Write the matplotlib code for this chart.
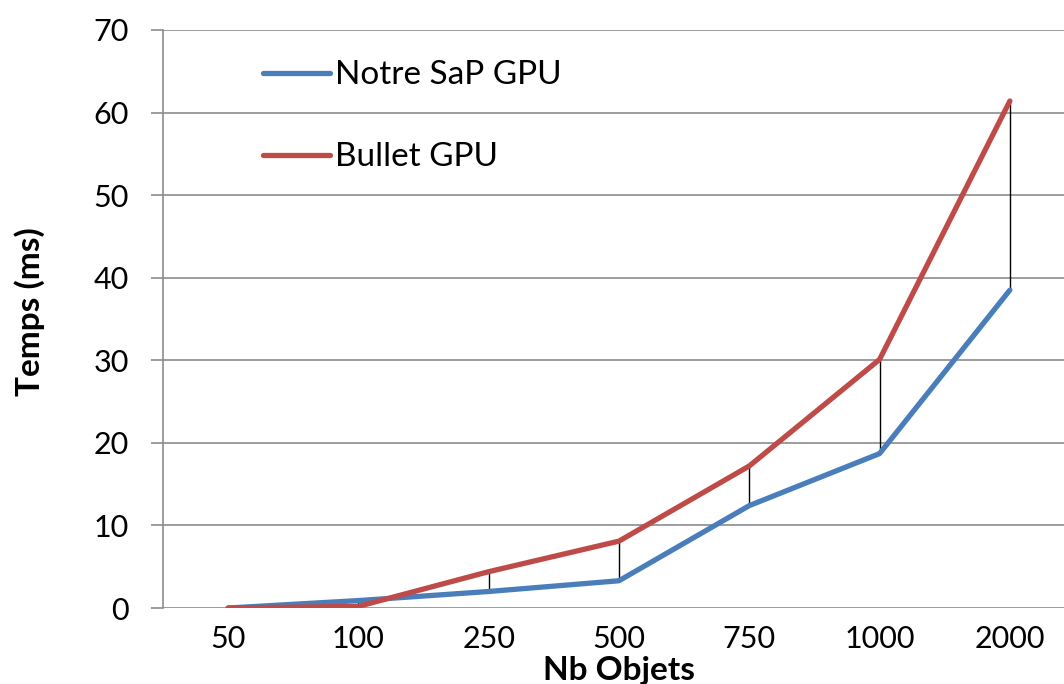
import matplotlib
matplotlib.use("Agg")
import matplotlib.pyplot as plt
from matplotlib.lines import Line2D

# Benchmark data: time (ms) per number of objects
categories = ["50", "100", "250", "500", "750", "1000", "2000"]
notre_sap_gpu = [0.0, 0.9, 2.0, 3.3, 12.4, 18.7, 38.5]
bullet_gpu = [0.0, 0.2, 4.4, 8.1, 17.2, 30.1, 61.4]
y_ticks = [0, 10, 20, 30, 40, 50, 60, 70]

plt.rcParams["font.family"] = ["Lato", "DejaVu Sans"]

W, H = 1064, 684
fig = plt.figure(figsize=(W / 100, H / 100), dpi=100)

left_px, right_px = 163, 1075
top_px, bottom_px = 30, 608
ax = fig.add_axes([left_px / W, 1 - bottom_px / H,
                   (right_px - left_px) / W, (bottom_px - top_px) / H])

x = list(range(len(categories)))
grid_col = "#8c8c8c"
blue = "#4A7EBB"
red = "#BE4B48"

ax.set_xlim(-0.5, len(categories) - 0.5)
ax.set_ylim(0, 70)
ax.set_yticks(y_ticks)
ax.set_xticks(x)
ax.set_xticklabels(categories)

for v in y_ticks:
    ax.axhline(v, color=grid_col, lw=1.2, zorder=1)

# high-low lines between the two series
lows = [min(a, b) for a, b in zip(notre_sap_gpu, bullet_gpu)]
highs = [max(a, b) for a, b in zip(notre_sap_gpu, bullet_gpu)]
ax.vlines(x, lows, highs, color="black", lw=1.0, zorder=2)

ax.plot(x, notre_sap_gpu, color=blue, lw=3.8, solid_capstyle="round",
        solid_joinstyle="round", zorder=3, label="Notre SaP GPU")
ax.plot(x, bullet_gpu, color=red, lw=3.8, solid_capstyle="round",
        solid_joinstyle="round", zorder=4, label="Bullet GPU")

for s in ["top", "right", "bottom"]:
    ax.spines[s].set_visible(False)
ax.spines["left"].set_color(grid_col)
ax.spines["left"].set_linewidth(1.2)

ax.tick_params(axis="y", length=8.5, width=1.2, color=grid_col,
               labelsize=22, pad=16, labelcolor="black")
ax.tick_params(axis="x", length=0, labelsize=22, pad=12, labelcolor="black")

ax.set_ylabel("Temps (ms)", fontsize=24, fontweight="bold")
ax.yaxis.set_label_coords(-(left_px - 45) / (right_px - left_px),
                          (bottom_px - 312) / (bottom_px - top_px))
ax.set_xlabel("Nb Objets", fontsize=24, fontweight="bold")
ax.xaxis.set_label_coords((619 - left_px) / (right_px - left_px),
                          -(656 - bottom_px) / (bottom_px - top_px))
ax.xaxis.label.set_va("top")

handles = [Line2D([], [], color=blue, lw=3.8, solid_capstyle="round"),
           Line2D([], [], color=red, lw=3.8, solid_capstyle="round")]
leg = fig.legend(handles, ["Notre SaP GPU", "Bullet GPU"],
                 loc="upper left", bbox_to_anchor=(263 / W, 1 - 60.5 / H),
                 frameon=False, fontsize=24, handlelength=2.0,
                 handletextpad=0.15, labelspacing=1.555, borderpad=0,
                 borderaxespad=0)

fig.savefig("out.png", dpi=100)
